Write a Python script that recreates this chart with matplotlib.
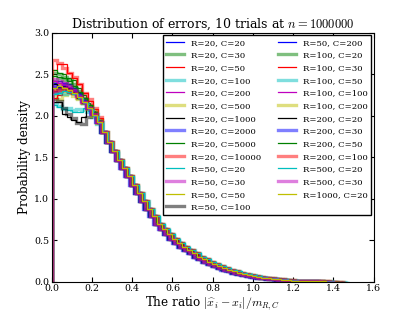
import numpy as np
import matplotlib
matplotlib.use('Agg')
import matplotlib.pyplot as plt
from matplotlib.lines import Line2D

plt.rcParams['font.family'] = 'serif'
plt.rcParams['font.serif'] = ['DejaVu Serif']
plt.rcParams['mathtext.fontset'] = 'cm'

n_bins = 58

labels = ['R=20, C=20', 'R=20, C=30', 'R=20, C=50', 'R=20, C=100', 'R=20, C=200',
          'R=20, C=500', 'R=20, C=1000', 'R=20, C=2000', 'R=20, C=5000', 'R=20, C=10000',
          'R=50, C=20', 'R=50, C=30', 'R=50, C=50', 'R=50, C=100', 'R=50, C=200',
          'R=100, C=20', 'R=100, C=30', 'R=100, C=50', 'R=100, C=100', 'R=100, C=200',
          'R=200, C=20', 'R=200, C=30', 'R=200, C=50', 'R=200, C=100',
          'R=500, C=20', 'R=500, C=30', 'R=1000, C=20']

# largest ratio seen in each run (end of the histogram range)
x_max = [1.45, 1.42, 1.47, 1.40, 1.44, 1.46, 1.41, 1.43, 1.39, 1.45,
         1.48, 1.42, 1.44, 1.40, 1.46, 1.43, 1.41, 1.47, 1.44, 1.42,
         1.45, 1.39, 1.43, 1.46, 1.48, 1.41, 1.44]

# first 10 bins, where the curves differ visibly
heads = [
    [2.33, 2.36, 2.38, 2.35, 2.30, 2.27, 2.20, 2.12, 2.04, 1.93],
    [2.52, 2.50, 2.47, 2.44, 2.38, 2.30, 2.22, 2.13, 2.05, 1.95],
    [2.55, 2.62, 2.62, 2.52, 2.45, 2.38, 2.28, 2.18, 2.08, 1.97],
    [2.15, 2.12, 2.08, 2.10, 2.07, 2.08, 2.07, 2.05, 1.98, 1.90],
    [2.30, 2.33, 2.37, 2.32, 2.28, 2.25, 2.18, 2.10, 2.01, 1.92],
    [2.25, 2.20, 2.25, 2.27, 2.24, 2.20, 2.15, 2.12, 2.06, 1.95],
    [2.17, 2.17, 2.02, 1.98, 1.95, 1.93, 1.98, 2.08, 2.02, 1.92],
    [2.28, 2.30, 2.32, 2.33, 2.29, 2.24, 2.16, 2.10, 2.03, 1.93],
    [2.55, 2.52, 2.50, 2.45, 2.43, 2.33, 2.25, 2.15, 2.06, 1.95],
    [2.67, 2.64, 2.58, 2.52, 2.47, 2.38, 2.28, 2.20, 2.10, 1.98],
    [2.13, 2.11, 2.08, 2.07, 2.05, 2.05, 2.09, 2.06, 2.00, 1.91],
    [2.35, 2.38, 2.40, 2.36, 2.32, 2.26, 2.20, 2.12, 2.03, 1.94],
    [2.40, 2.38, 2.32, 2.30, 2.28, 2.23, 2.17, 2.12, 2.04, 1.93],
    [2.20, 2.18, 2.10, 2.02, 1.97, 1.91, 1.90, 1.98, 2.03, 1.93],
    [2.40, 2.42, 2.40, 2.38, 2.33, 2.27, 2.19, 2.11, 2.02, 1.92],
    [2.42, 2.45, 2.43, 2.38, 2.33, 2.28, 2.20, 2.12, 2.03, 1.94],
    [2.22, 2.25, 2.30, 2.28, 2.26, 2.22, 2.16, 2.09, 2.01, 1.91],
    [2.28, 2.27, 2.26, 2.28, 2.27, 2.22, 2.15, 2.09, 2.02, 1.92],
    [2.42, 2.40, 2.37, 2.35, 2.31, 2.25, 2.18, 2.11, 2.02, 1.92],
    [2.32, 2.33, 2.30, 2.31, 2.27, 2.22, 2.15, 2.08, 2.00, 1.91],
    [2.38, 2.35, 2.36, 2.33, 2.29, 2.22, 2.16, 2.09, 2.01, 1.91],
    [2.36, 2.34, 2.35, 2.32, 2.30, 2.25, 2.18, 2.10, 2.02, 1.92],
    [2.48, 2.47, 2.46, 2.42, 2.36, 2.29, 2.21, 2.13, 2.04, 1.94],
    [2.30, 2.31, 2.33, 2.31, 2.28, 2.23, 2.17, 2.10, 2.02, 1.92],
    [2.26, 2.28, 2.30, 2.29, 2.26, 2.21, 2.15, 2.08, 2.00, 1.91],
    [2.44, 2.42, 2.40, 2.36, 2.31, 2.24, 2.17, 2.10, 2.02, 1.92],
    [2.34, 2.36, 2.34, 2.31, 2.28, 2.23, 2.17, 2.10, 2.01, 1.92],
]

# remaining bins, the curves overlap there
tail = [1.80, 1.68, 1.58, 1.47, 1.37, 1.27, 1.17, 1.07, 0.97, 0.88,
        0.79, 0.70, 0.63, 0.57, 0.52, 0.47, 0.42, 0.38, 0.34, 0.30,
        0.27, 0.24, 0.215, 0.19, 0.165, 0.145, 0.125, 0.108, 0.093, 0.080,
        0.068, 0.057, 0.048, 0.040, 0.033, 0.027, 0.022, 0.018, 0.014, 0.011,
        0.009, 0.007, 0.005, 0.004, 0.003, 0.002, 0.0015, 0.001]

colors = ['b', 'g', 'r', 'c', 'm', 'y', 'k']
classic = {'b': (0, 0, 1), 'g': (0, 0.5, 0), 'r': (1, 0, 0), 'c': (0, 0.75, 0.75),
           'm': (0.75, 0, 0.75), 'y': (0.75, 0.75, 0), 'k': (0, 0, 0)}

fig = plt.figure(figsize=(4.15, 3.13), dpi=100)
fig.subplots_adjust(left=0.125, bottom=0.1, right=0.9, top=0.895)
ax = fig.add_subplot(1, 1, 1)

handles = []
for i, lab in enumerate(labels):
    heights = heads[i] + tail
    edges = np.linspace(0, x_max[i], n_bins + 1)
    centers = (edges[:-1] + edges[1:]) / 2
    c = classic[colors[i % 7]]
    if i % 2 == 0:
        style = dict(color=c, lw=0.9)
    else:
        style = dict(color=c, lw=2.4, alpha=0.5)
    ax.hist(centers, bins=edges, weights=heights, histtype='step', **style)
    handles.append(Line2D([], [], label=lab, **style))

ax.set_xlim(0, 1.6)
ax.set_ylim(0, 3.0)
ax.set_xticks(np.arange(0, 1.61, 0.2))
ax.set_yticks(np.arange(0, 3.01, 0.5))
ax.tick_params(direction='in', top=True, right=True, labelsize=6.8, length=3.5, pad=2)

ax.set_title(r'Distribution of errors, 10 trials at $n=1000000$', fontsize=9, pad=4)
ax.set_xlabel(r'The ratio $|\widehat{x}_i - x_i|/m_{R,C}$', fontsize=8.6, labelpad=1)
ax.set_ylabel('Probability density', fontsize=8.6, labelpad=2)

leg = ax.legend(handles=handles, loc='upper right', ncol=2, fontsize=6.1,
                handlelength=2.1, labelspacing=0.55, columnspacing=2.0,
                borderaxespad=0.3, fancybox=False, framealpha=1)
leg.get_frame().set_edgecolor('black')

plt.savefig('out.png', dpi=100)
plt.close()
